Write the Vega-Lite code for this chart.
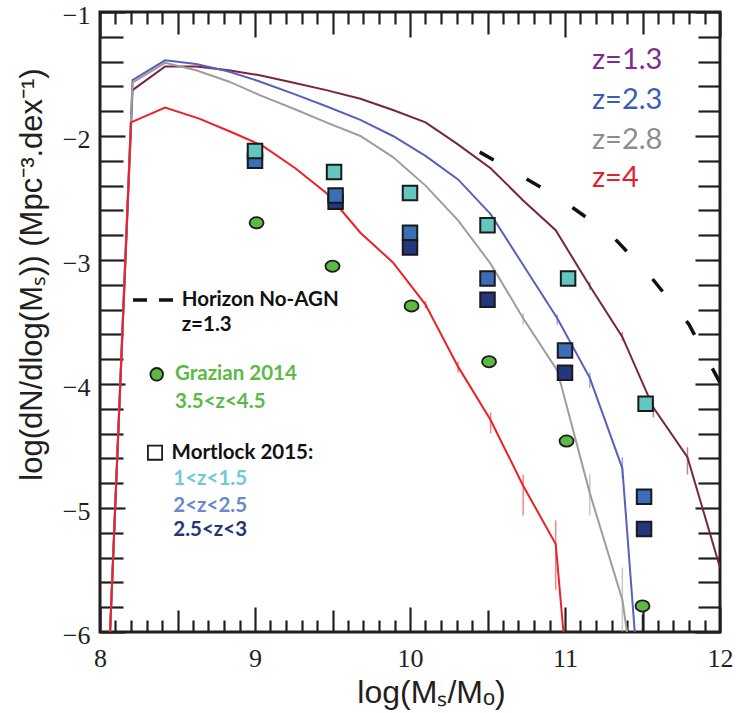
{
  "$schema": "https://vega.github.io/schema/vega-lite/v6.json",
  "width": 620,
  "height": 620,
  "autosize": {"type": "none"},
  "padding": {"left": 100, "top": 12, "right": 21, "bottom": 81},
  "background": "white",
  "config": {"view": {"stroke": "#231f20", "strokeWidth": 3}, "axis": {"grid": false, "domain": false, "tickColor": "#231f20", "tickWidth": 2.2, "labelColor": "#231f20"}},
  "resolve": {"axis": {"x": "independent", "y": "independent"}},
  "datasets": {
    "curves": [
      {"series": "z=1.3", "x": 8.065, "y": -6}, {"series": "z=1.3", "x": 8.21, "y": -1.63}, {"series": "z=1.3", "x": 8.42, "y": -1.44}, {"series": "z=1.3", "x": 8.62, "y": -1.44}, {"series": "z=1.3", "x": 8.83, "y": -1.47}, {"series": "z=1.3", "x": 9.03, "y": -1.51}, {"series": "z=1.3", "x": 9.25, "y": -1.57}, {"series": "z=1.3", "x": 9.46, "y": -1.63}, {"series": "z=1.3", "x": 9.68, "y": -1.7}, {"series": "z=1.3", "x": 9.89, "y": -1.79}, {"series": "z=1.3", "x": 10.1, "y": -1.89}, {"series": "z=1.3", "x": 10.3, "y": -2.06}, {"series": "z=1.3", "x": 10.52, "y": -2.26}, {"series": "z=1.3", "x": 10.73, "y": -2.52}, {"series": "z=1.3", "x": 10.94, "y": -2.76}, {"series": "z=1.3", "x": 11.16, "y": -3.21}, {"series": "z=1.3", "x": 11.37, "y": -3.62}, {"series": "z=1.3", "x": 11.57, "y": -4.19}, {"series": "z=1.3", "x": 11.79, "y": -4.59}, {"series": "z=1.3", "x": 12.0, "y": -5.48},
      {"series": "z=2.3", "x": 8.065, "y": -6}, {"series": "z=2.3", "x": 8.21, "y": -1.55}, {"series": "z=2.3", "x": 8.42, "y": -1.39}, {"series": "z=2.3", "x": 8.62, "y": -1.42}, {"series": "z=2.3", "x": 8.83, "y": -1.48}, {"series": "z=2.3", "x": 9.03, "y": -1.56}, {"series": "z=2.3", "x": 9.25, "y": -1.66}, {"series": "z=2.3", "x": 9.46, "y": -1.76}, {"series": "z=2.3", "x": 9.68, "y": -1.87}, {"series": "z=2.3", "x": 9.89, "y": -2.0}, {"series": "z=2.3", "x": 10.1, "y": -2.16}, {"series": "z=2.3", "x": 10.31, "y": -2.35}, {"series": "z=2.3", "x": 10.52, "y": -2.63}, {"series": "z=2.3", "x": 10.73, "y": -3.04}, {"series": "z=2.3", "x": 10.95, "y": -3.47}, {"series": "z=2.3", "x": 11.16, "y": -3.95}, {"series": "z=2.3", "x": 11.37, "y": -4.68}, {"series": "z=2.3", "x": 11.45, "y": -6.0},
      {"series": "z=2.8", "x": 8.065, "y": -6}, {"series": "z=2.8", "x": 8.21, "y": -1.57}, {"series": "z=2.8", "x": 8.42, "y": -1.41}, {"series": "z=2.8", "x": 8.62, "y": -1.47}, {"series": "z=2.8", "x": 8.83, "y": -1.56}, {"series": "z=2.8", "x": 9.03, "y": -1.67}, {"series": "z=2.8", "x": 9.25, "y": -1.78}, {"series": "z=2.8", "x": 9.46, "y": -1.89}, {"series": "z=2.8", "x": 9.68, "y": -2.0}, {"series": "z=2.8", "x": 9.89, "y": -2.17}, {"series": "z=2.8", "x": 10.1, "y": -2.4}, {"series": "z=2.8", "x": 10.31, "y": -2.68}, {"series": "z=2.8", "x": 10.52, "y": -3.03}, {"series": "z=2.8", "x": 10.73, "y": -3.47}, {"series": "z=2.8", "x": 10.95, "y": -3.89}, {"series": "z=2.8", "x": 11.16, "y": -4.88}, {"series": "z=2.8", "x": 11.37, "y": -5.74}, {"series": "z=2.8", "x": 11.4, "y": -6.0},
      {"series": "z=4", "x": 8.065, "y": -6}, {"series": "z=4", "x": 8.2, "y": -1.89}, {"series": "z=4", "x": 8.42, "y": -1.77}, {"series": "z=4", "x": 8.64, "y": -1.86}, {"series": "z=4", "x": 8.85, "y": -1.97}, {"series": "z=4", "x": 9.05, "y": -2.08}, {"series": "z=4", "x": 9.26, "y": -2.26}, {"series": "z=4", "x": 9.47, "y": -2.47}, {"series": "z=4", "x": 9.68, "y": -2.78}, {"series": "z=4", "x": 9.89, "y": -3.02}, {"series": "z=4", "x": 10.1, "y": -3.36}, {"series": "z=4", "x": 10.31, "y": -3.86}, {"series": "z=4", "x": 10.52, "y": -4.29}, {"series": "z=4", "x": 10.73, "y": -4.82}, {"series": "z=4", "x": 10.94, "y": -5.29}, {"series": "z=4", "x": 10.99, "y": -6.0}
    ],
    "errors": [
      {"series": "z=4", "x": 10.1, "lo": -3.33, "hi": -3.39}, {"series": "z=4", "x": 10.31, "lo": -3.82, "hi": -3.91}, {"series": "z=4", "x": 10.52, "lo": -4.23, "hi": -4.4}, {"series": "z=4", "x": 10.73, "lo": -4.73, "hi": -5.06}, {"series": "z=4", "x": 10.94, "lo": -5.1, "hi": -5.66},
      {"series": "z=2.8", "x": 10.73, "lo": -3.43, "hi": -3.52}, {"series": "z=2.8", "x": 11.16, "lo": -4.73, "hi": -5.06}, {"series": "z=2.8", "x": 11.37, "lo": -5.48, "hi": -6.0},
      {"series": "z=2.3", "x": 10.95, "lo": -3.44, "hi": -3.52}, {"series": "z=2.3", "x": 11.16, "lo": -3.91, "hi": -4.03}, {"series": "z=2.3", "x": 11.37, "lo": -4.59, "hi": -4.76},
      {"series": "z=1.3", "x": 11.16, "lo": -3.18, "hi": -3.24}, {"series": "z=1.3", "x": 11.37, "lo": -3.58, "hi": -3.65}, {"series": "z=1.3", "x": 11.57, "lo": -4.13, "hi": -4.27}, {"series": "z=1.3", "x": 11.79, "lo": -4.51, "hi": -4.73}
    ],
    "horizon": [
      {"x": 10.45, "y": -2.13}, {"x": 10.95, "y": -2.49}, {"x": 11.3, "y": -2.8}, {"x": 11.55, "y": -3.13}, {"x": 11.8, "y": -3.52}, {"x": 12.0, "y": -3.99}
    ],
    "legendDash": [{"x": 8.213, "y": -3.323}, {"x": 8.471, "y": -3.323}],
    "grazian": [
      {"x": 9.01, "y": -2.7}, {"x": 9.5, "y": -3.05}, {"x": 10.01, "y": -3.37}, {"x": 10.51, "y": -3.82}, {"x": 11.01, "y": -4.46}, {"x": 11.5, "y": -5.79}
    ],
    "grazianErr": [{"x": 11.5, "lo": -5.86, "hi": -6.0}],
    "mortlock": [
      {"label": "Mortlock 2.5<z<3", "x": 9.52, "y": -2.53}, {"label": "Mortlock 2.5<z<3", "x": 10.0, "y": -2.9}, {"label": "Mortlock 2.5<z<3", "x": 10.5, "y": -3.32}, {"label": "Mortlock 2.5<z<3", "x": 11.0, "y": -3.91}, {"label": "Mortlock 2.5<z<3", "x": 11.51, "y": -5.17},
      {"label": "Mortlock 2<z<2.5", "x": 9.0, "y": -2.2}, {"label": "Mortlock 2<z<2.5", "x": 9.52, "y": -2.48}, {"label": "Mortlock 2<z<2.5", "x": 10.0, "y": -2.78}, {"label": "Mortlock 2<z<2.5", "x": 10.5, "y": -3.15}, {"label": "Mortlock 2<z<2.5", "x": 11.0, "y": -3.73}, {"label": "Mortlock 2<z<2.5", "x": 11.51, "y": -4.91},
      {"label": "Mortlock 1<z<1.5", "x": 9.0, "y": -2.12}, {"label": "Mortlock 1<z<1.5", "x": 9.51, "y": -2.29}, {"label": "Mortlock 1<z<1.5", "x": 10.0, "y": -2.46}, {"label": "Mortlock 1<z<1.5", "x": 10.5, "y": -2.72}, {"label": "Mortlock 1<z<1.5", "x": 11.02, "y": -3.15}, {"label": "Mortlock 1<z<1.5", "x": 11.52, "y": -4.16}
    ],
    "legendSquare": [{"x": 8.355, "y": -4.554}],
    "legendCircle": [{"x": 8.366, "y": -3.922}],
    "rightText": [
      {"x": 11.174, "y": -1.387, "text": "z=1.3", "label": "z=1.3"},
      {"x": 11.174, "y": -1.71, "text": "z=2.3", "label": "z=2.3"},
      {"x": 11.174, "y": -2.03, "text": "z=2.8", "label": "z=2.8"},
      {"x": 11.174, "y": -2.34, "text": "z=4", "label": "z=4"}
    ],
    "leftText": [
      {"x": 8.527, "y": -3.323, "text": "Horizon No-AGN", "label": "Horizon No-AGN"},
      {"x": 8.527, "y": -3.524, "text": "z=1.3", "label": "Horizon No-AGN"},
      {"x": 8.484, "y": -3.919, "text": "Grazian 2014", "label": "Grazian 2014"},
      {"x": 8.484, "y": -4.143, "text": "3.5<z<4.5", "label": "Grazian 2014"},
      {"x": 8.462, "y": -4.554, "text": "Mortlock 2015:", "label": "Mortlock 2015"},
      {"x": 8.473, "y": -4.766, "text": "1<z<1.5", "label": "1<z<1.5"},
      {"x": 8.473, "y": -4.98, "text": "2<z<2.5", "label": "2<z<2.5"},
      {"x": 8.473, "y": -5.177, "text": "2.5<z<3", "label": "2.5<z<3"}
    ]
  },
  "layer": [
    {
      "data": {"name": "curves"},
      "mark": {"type": "line", "strokeWidth": 2, "clip": true},
      "encoding": {
        "x": {"field": "x", "type": "quantitative", "scale": {"domain": [8, 12], "nice": false, "zero": false},
          "axis": {"orient": "bottom", "values": [8, 9, 10, 11, 12], "ticks": false, "labelFont": "Liberation Serif", "labelFontSize": 26, "labelPadding": 13, "labelFlush": false,
            "title": "log(Mₛ/Mₒ)", "titleFont": "Liberation Sans", "titleFontSize": 32, "titleFontWeight": "normal", "titleColor": "#231f20", "titleX": 331, "titleY": 70, "titleBaseline": "alphabetic", "titleAlign": "center", "titleAnchor": null}},
        "y": {"field": "y", "type": "quantitative", "scale": {"domain": [-6, -1], "nice": false, "zero": false},
          "axis": {"orient": "left", "values": [-1, -2, -3, -4, -5, -6], "format": "d", "ticks": false, "labelFont": "Liberation Serif", "labelFontSize": 26, "labelPadding": 10, "labelOffset": 3, "labelFlush": false,
            "title": "log(dN/dlog(Mₛ)) (Mpc⁻³.dex⁻¹)", "titleFont": "Liberation Sans", "titleFontSize": 31, "titleFontWeight": "normal", "titleColor": "#231f20", "titleX": -59, "titleY": 262, "titleAngle": -90, "titleBaseline": "alphabetic", "titleAlign": "center", "titleAnchor": null}},
        "color": {"field": "series", "type": "nominal", "scale": {"domain": ["z=1.3", "z=2.3", "z=2.8", "z=4"], "range": ["#7b2249", "#5860bd", "#9d9d9d", "#ee2027"]}, "legend": null},
        "order": {"field": "x", "type": "quantitative"}
      }
    },
    {
      "data": {"name": "errors"},
      "mark": {"type": "rule", "strokeWidth": 1.5, "opacity": 0.55, "clip": true},
      "encoding": {
        "x": {"field": "x", "type": "quantitative", "scale": {"domain": [8, 12], "nice": false, "zero": false},
          "axis": {"orient": "bottom", "values": [8, 9, 10, 11, 12], "labels": false, "tickSize": -25, "title": null}},
        "y": {"field": "lo", "type": "quantitative", "scale": {"domain": [-6, -1], "nice": false, "zero": false},
          "axis": {"orient": "left", "values": [-1, -2, -3, -4, -5, -6], "labels": false, "tickSize": -25, "title": null}},
        "y2": {"field": "hi"},
        "color": {"field": "series", "type": "nominal", "scale": {"domain": ["z=1.3", "z=2.3", "z=2.8", "z=4"], "range": ["#7b2249", "#5860bd", "#9d9d9d", "#ee2027"]}, "legend": null}
      }
    },
    {
      "data": {"name": "horizon"},
      "mark": {"type": "line", "color": "#111111", "strokeWidth": 3.5, "strokeDash": [16, 38], "clip": true},
      "encoding": {
        "x": {"field": "x", "type": "quantitative", "scale": {"domain": [8, 12], "nice": false, "zero": false},
          "axis": {"orient": "top", "values": [8, 9, 10, 11, 12], "labels": false, "tickSize": -25, "title": null}},
        "y": {"field": "y", "type": "quantitative", "scale": {"domain": [-6, -1], "nice": false, "zero": false},
          "axis": {"orient": "right", "values": [-1, -2, -3, -4, -5, -6], "labels": false, "tickSize": -25, "title": null}}
      }
    },
    {
      "data": {"name": "legendDash"},
      "mark": {"type": "line", "color": "#111111", "strokeWidth": 3.5, "strokeDash": [14, 12]},
      "encoding": {
        "x": {"field": "x", "type": "quantitative", "scale": {"domain": [8, 12], "nice": false, "zero": false},
          "axis": {"orient": "bottom", "values": [8.5, 9.5, 10.5, 11.5], "labels": false, "tickSize": -22, "title": null}},
        "y": {"field": "y", "type": "quantitative", "scale": {"domain": [-6, -1], "nice": false, "zero": false},
          "axis": {"orient": "left", "values": [-1.2, -1.4, -1.6, -1.8, -2.2, -2.4, -2.6, -2.8, -3.2, -3.4, -3.6, -3.8, -4.2, -4.4, -4.6, -4.8, -5.2, -5.4, -5.6, -5.8], "labels": false, "tickSize": -23, "title": null}}
      }
    },
    {
      "data": {"name": "grazianErr"},
      "mark": {"type": "rule", "color": "#231f20", "strokeWidth": 1.5},
      "encoding": {
        "x": {"field": "x", "type": "quantitative", "scale": {"domain": [8, 12], "nice": false, "zero": false},
          "axis": {"orient": "bottom", "values": [8.1, 8.2, 8.3, 8.4, 8.6, 8.7, 8.8, 8.9, 9.1, 9.2, 9.3, 9.4, 9.6, 9.7, 9.8, 9.9, 10.1, 10.2, 10.3, 10.4, 10.6, 10.7, 10.8, 10.9, 11.1, 11.2, 11.3, 11.4, 11.6, 11.7, 11.8, 11.9], "labels": false, "tickSize": -12, "title": null}},
        "y": {"field": "lo", "type": "quantitative", "scale": {"domain": [-6, -1], "nice": false, "zero": false},
          "axis": {"orient": "right", "values": [-1.2, -1.4, -1.6, -1.8, -2.2, -2.4, -2.6, -2.8, -3.2, -3.4, -3.6, -3.8, -4.2, -4.4, -4.6, -4.8, -5.2, -5.4, -5.6, -5.8], "labels": false, "tickSize": -22, "title": null}},
        "y2": {"field": "hi"}
      }
    },
    {
      "data": {"name": "grazian"},
      "mark": {"type": "point", "shape": "M-1,0A1,0.8,0,1,1,1,0A1,0.8,0,1,1,-1,0Z", "size": 196, "filled": true, "fill": "#5cb946", "stroke": "#1a1a1a", "strokeWidth": 1.8, "opacity": 1},
      "encoding": {
        "x": {"field": "x", "type": "quantitative", "scale": {"domain": [8, 12], "nice": false, "zero": false},
          "axis": {"orient": "top", "values": [8.5, 9.5, 10.5, 11.5], "labels": false, "tickSize": -22, "title": null}},
        "y": {"field": "y", "type": "quantitative", "scale": {"domain": [-6, -1], "nice": false, "zero": false}, "axis": null}
      }
    },
    {
      "data": {"name": "mortlock"},
      "mark": {"type": "point", "shape": "square", "size": 210, "filled": true, "stroke": "#1a1a1a", "strokeWidth": 2, "opacity": 1},
      "encoding": {
        "x": {"field": "x", "type": "quantitative", "scale": {"domain": [8, 12], "nice": false, "zero": false},
          "axis": {"orient": "top", "values": [8.1, 8.2, 8.3, 8.4, 8.6, 8.7, 8.8, 8.9, 9.1, 9.2, 9.3, 9.4, 9.6, 9.7, 9.8, 9.9, 10.1, 10.2, 10.3, 10.4, 10.6, 10.7, 10.8, 10.9, 11.1, 11.2, 11.3, 11.4, 11.6, 11.7, 11.8, 11.9], "labels": false, "tickSize": -12, "title": null}},
        "y": {"field": "y", "type": "quantitative", "scale": {"domain": [-6, -1], "nice": false, "zero": false}, "axis": null},
        "fill": {"field": "label", "type": "nominal", "scale": {"domain": ["z=1.3", "z=2.3", "z=2.8", "z=4", "Horizon No-AGN", "Grazian 2014", "Mortlock 2015", "1<z<1.5", "2<z<2.5", "2.5<z<3", "Mortlock 1<z<1.5", "Mortlock 2<z<2.5", "Mortlock 2.5<z<3"], "range": ["#7e2d8c", "#3b5db2", "#8d8d8d", "#e4202a", "#111111", "#5cb946", "#111111", "#6dcad6", "#6b89c9", "#263479", "#63c7bf", "#3b6eb7", "#24367d"]}, "legend": null}
      }
    },
    {
      "data": {"name": "legendSquare"},
      "mark": {"type": "point", "shape": "square", "size": 200, "filled": true, "fill": "white", "stroke": "#1a1a1a", "strokeWidth": 1.8, "opacity": 1},
      "encoding": {
        "x": {"field": "x", "type": "quantitative", "scale": {"domain": [8, 12], "nice": false, "zero": false}, "axis": null},
        "y": {"field": "y", "type": "quantitative", "scale": {"domain": [-6, -1], "nice": false, "zero": false}, "axis": null}
      }
    },
    {
      "data": {"name": "legendCircle"},
      "mark": {"type": "point", "shape": "circle", "size": 160, "filled": true, "fill": "#5cb946", "stroke": "#1a1a1a", "strokeWidth": 1.8, "opacity": 1},
      "encoding": {
        "x": {"field": "x", "type": "quantitative", "scale": {"domain": [8, 12], "nice": false, "zero": false}, "axis": null},
        "y": {"field": "y", "type": "quantitative", "scale": {"domain": [-6, -1], "nice": false, "zero": false}, "axis": null}
      }
    },
    {
      "data": {"name": "rightText"},
      "mark": {"type": "text", "font": "Lato", "fontSize": 29, "align": "left", "baseline": "middle"},
      "encoding": {
        "x": {"field": "x", "type": "quantitative", "scale": {"domain": [8, 12], "nice": false, "zero": false}, "axis": null},
        "y": {"field": "y", "type": "quantitative", "scale": {"domain": [-6, -1], "nice": false, "zero": false}, "axis": null},
        "text": {"field": "text"},
        "fill": {"field": "label", "type": "nominal", "legend": null}
      }
    },
    {
      "data": {"name": "leftText"},
      "mark": {"type": "text", "font": "Lato", "fontSize": 20.5, "fontWeight": "bold", "align": "left", "baseline": "middle"},
      "encoding": {
        "x": {"field": "x", "type": "quantitative", "scale": {"domain": [8, 12], "nice": false, "zero": false}, "axis": null},
        "y": {"field": "y", "type": "quantitative", "scale": {"domain": [-6, -1], "nice": false, "zero": false}, "axis": null},
        "text": {"field": "text"},
        "fill": {"field": "label", "type": "nominal", "legend": null}
      }
    }
  ]
}
